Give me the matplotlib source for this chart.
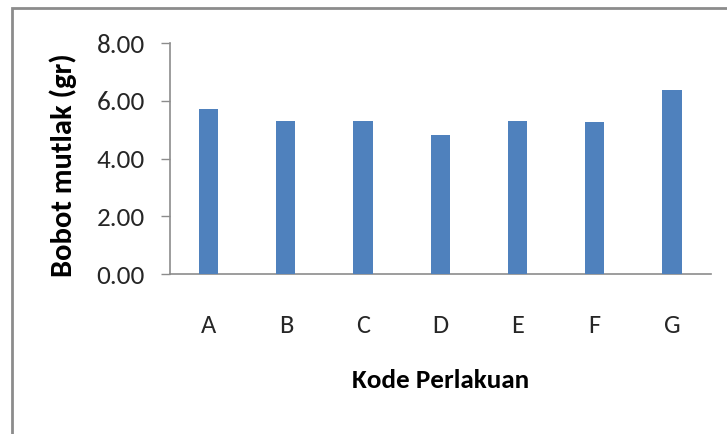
import matplotlib
matplotlib.use("Agg")
import matplotlib.pyplot as plt
from matplotlib.patches import Rectangle

categories = ["A", "B", "C", "D", "E", "F", "G"]
values = [5.70, 5.29, 5.29, 4.83, 5.29, 5.25, 6.37]
yticks = [0, 2, 4, 6, 8]
ytick_labels = ["0.00", "2.00", "4.00", "6.00", "8.00"]

plt.rcParams['font.family'] = ["Carlito", "DejaVu Sans"]

W, H = 727, 434
fig = plt.figure(figsize=(W / 100, H / 100), dpi=100)
ax = fig.add_axes([170 / W, 1 - 274 / H, (710.6 - 170) / W, (274 - 43) / H])

x = list(range(len(categories)))
ax.bar(x, values, width=0.25, color="#4F81BD", zorder=3)
ax.set_xlim(-0.5, len(categories) - 0.5)
ax.set_ylim(0, 8)
ax.set_xticks(x)
ax.set_xticklabels(categories)
ax.set_yticks(yticks)
ax.set_yticklabels(ytick_labels)

for s in ["top", "right"]:
    ax.spines[s].set_visible(False)
for s in ["left", "bottom"]:
    ax.spines[s].set_color("#8c8c8c")
    ax.spines[s].set_linewidth(1.2)

ax.tick_params(axis="y", direction="out", length=6.5, width=1.0, color="#8c8c8c",
               labelsize=19.5, labelcolor="#262626", pad=11.5)
ax.tick_params(axis="x", length=0, labelsize=19, labelcolor="#262626", pad=29)

ax.set_xlabel("Kode Perlakuan", fontsize=19.5, fontweight="bold", color="black", labelpad=23)
ax.set_ylabel("Bobot mutlak (gr)", fontsize=22, fontweight="bold", color="black")
ax.yaxis.set_label_coords(-0.172, 0.47)

fig.patches.append(Rectangle((11.5 / W, -0.1), 1.2, 1.1 - 8.5 / H,
                             transform=fig.transFigure, fill=False,
                             edgecolor="#8c8c8c", linewidth=2.0))

fig.savefig("out.png", dpi=100)
